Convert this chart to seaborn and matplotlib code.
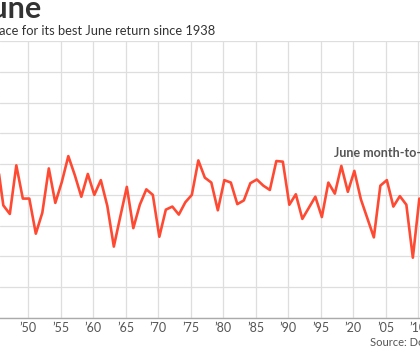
import matplotlib.pyplot as plt
import seaborn as sns
import pandas as pd

# Dow June returns (%)
years = list(range(1944, 2010))
june_returns = [
    6.0, -1.7, -3.1, 4.8, -0.6, -0.6, -6.3, -2.9, 4.3, -1.3,
    2.1, 6.3, 3.2, -0.3, 3.4, 0.0, 2.4, -1.8, -8.4, -3.5,
    1.3, -5.4, -1.6, 0.9, 0.0, -6.8, -2.4, -1.9, -3.2, -1.2,
    0.0, 5.6, 2.8, 2.0, -2.5, 2.4, 2.0, -1.5, -0.9, 1.9,
    2.5, 1.5, 0.8, 5.5, 5.4, -1.6, 0.1, -3.9, -2.1, -0.3,
    -3.6, 2.0, 0.2, 4.7, 0.5, 3.9, -0.7, -3.8, -6.9, 1.5,
    2.4, -1.9, -0.2, -1.6, -10.2, -0.6,
]
tick_years = [1950, 1955, 1960, 1965, 1970, 1975, 1980, 1985, 1990, 1995, 2000, 2005, 2010]
tick_labels = ["’50", "’55", "’60", "’65", "’70", "’75", "’80", "’85", "’90", "’95", "’20", "’05", "’10"]
y_ticks = [-20, -15, -10, -5, 0, 5, 10, 15, 20, 25]

df = pd.DataFrame({"year": years, "ret": june_returns})

sns.set_style("whitegrid")
plt.rcParams["font.family"] = ["Lato", "DejaVu Sans"]

fig = plt.figure(figsize=(4.2, 3.5), dpi=100)
ax = fig.add_axes([0, 32 / 350, 1, 277 / 350])

sns.lineplot(data=df, x="year", y="ret", color="#ff4a33", linewidth=1.9, ax=ax)

ax.set_xlim(1944.49, 2009.1)
ax.set_ylim(-20, 25)
# gridlines in the original sit a bit left of the labelled year
ax.set_xticks([y - 1.2 for y in tick_years])
ax.set_xticklabels(tick_labels)
ax.set_yticks(y_ticks)
ax.set_yticklabels([])
ax.set_xlabel("")
ax.set_ylabel("")
ax.grid(True, color="#dedede", linewidth=0.9)
ax.tick_params(axis="both", length=0, labelsize=9, labelcolor="#555555", pad=3)
for s in ["left", "right", "top"]:
    ax.spines[s].set_visible(False)
ax.spines["bottom"].set_color("#aaaaaa")
ax.spines["bottom"].set_linewidth(1.0)

fig.text(41 / 420, 1 - 18 / 350, "Dow's big June", ha="right", va="baseline",
         fontsize=22, fontweight="bold", color="#333333")
fig.text(215 / 420, 1 - 35 / 350, "Dow on pace for its best June return since 1938",
         ha="right", va="baseline", fontsize=9.3, color="#333333")
ax.text(334 / 420, (318 - 157) / 277, "June month-to-date", transform=ax.transAxes,
        ha="left", va="baseline", fontsize=9, fontweight="bold", color="#555555")
fig.text(370 / 420, 1 - 346 / 350, "Source: Dow Jones Market Data", ha="left",
         va="baseline", fontsize=8, color="#555555")

fig.savefig("out.png", dpi=100)
